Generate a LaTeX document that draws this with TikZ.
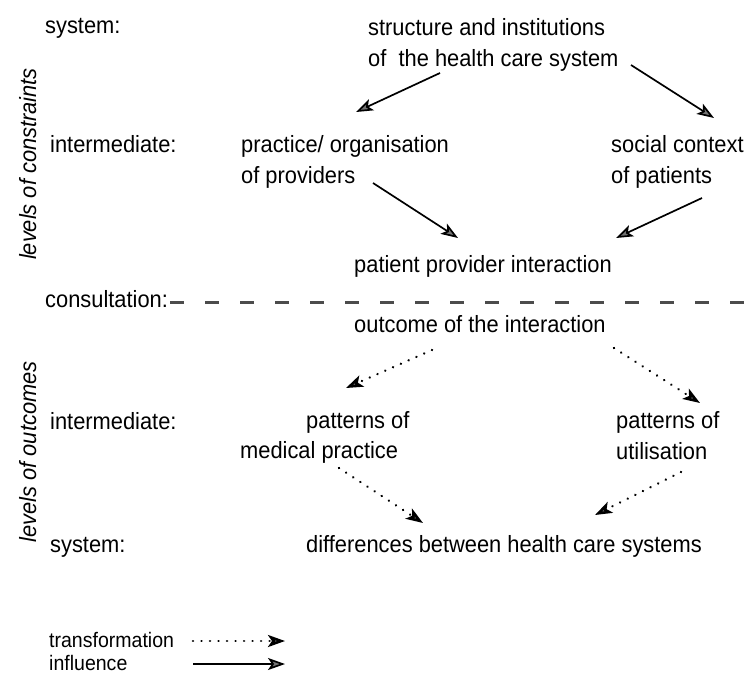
\documentclass[tikz,border=0pt]{standalone}
\usepackage{fontspec}
\setmainfont[FakeStretch=0.93]{Liberation Sans}
\usetikzlibrary{arrows.meta}
\tikzset{
  lbl/.style={inner sep=0pt, font=\fontsize{23.5}{31}\selectfont},
  rot/.style={inner sep=0pt, rotate=90, anchor=base, font=\fontsize{23.5}{31}\selectfont\itshape},
  leg/.style={inner sep=0pt, anchor=base west, font=\fontsize{21}{26}\selectfont},
  tip/.style={-{Stealth[length=17pt,width=12pt,inset=4pt,fill=black!55]}},
  infl/.style={tip, line width=1.7pt, draw=black},
  trans/.style={tip, line width=2.6pt, draw=black, line cap=round, dash pattern=on 0.01pt off 8.5pt},
  sep/.style={line width=3pt, draw=black!70, dash pattern=on 14pt off 21pt}
}
\begin{document}
\begin{tikzpicture}[x=1pt,y=-1pt]
\useasboundingbox (0,0) rectangle (749,675);
% labels
\node[lbl, anchor=base west] (sys1) at (45,33) {system:};
\node[rot] (rot1) at (36,164) {levels of constraints};
\node[lbl, anchor=north west, align=left] (struct) at (368,18) {structure and institutions\\of~ the health care system};
\node[lbl, anchor=base west] (inter1) at (50,152) {intermediate:};
\node[lbl, anchor=north west, align=left] (prac) at (241,135) {practice/ organisation\\of providers};
\node[lbl, anchor=north west, align=left] (social) at (611,135) {social context\\of patients};
\node[lbl, anchor=base west] (ppi) at (354,272) {patient provider interaction};
\node[lbl, anchor=base west] (consult) at (45,307) {consultation:};
\node[lbl, anchor=base west] (outcome) at (354,332) {outcome of the interaction};
\node[rot] (rot2) at (36,452) {levels of outcomes};
\node[lbl, anchor=base west] (inter2) at (50,429) {intermediate:};
\node[lbl, anchor=base west] (pmed1) at (306,428) {patterns of};
\node[lbl, anchor=base west] (pmed2) at (240,458) {medical practice};
\node[lbl, anchor=north west, align=left] (putil) at (616,411) {patterns of\\utilisation};
\node[lbl, anchor=base west] (sys2) at (50,552) {system:};
\node[lbl, anchor=base west] (diff) at (306,552) {differences between health care systems};
\node[leg] (ltrans) at (49,647) {transformation};
\node[leg] (linfl) at (49,670) {influence};
% arrow ends
\coordinate (a1s) at (440,73);  \coordinate (a1e) at (356,112);
\coordinate (a2s) at (631,65);  \coordinate (a2e) at (714,118);
\coordinate (a3s) at (373,183); \coordinate (a3e) at (458,238);
\coordinate (a4s) at (702,198); \coordinate (a4e) at (616,238);
\coordinate (a5s) at (432,350); \coordinate (a5e) at (346,388);
\coordinate (a6s) at (614,348); \coordinate (a6e) at (700,403);
\coordinate (a7s) at (339,468); \coordinate (a7e) at (423,523);
\coordinate (a8s) at (681,472); \coordinate (a8e) at (595,515);
\coordinate (lts) at (193,641); \coordinate (lte) at (285,641);
\coordinate (lis) at (193,664); \coordinate (lie) at (285,664);
\coordinate (ss) at (170,302);  \coordinate (se) at (749,302);
% connectors
\draw[infl] (a1s) -- (a1e);
\draw[infl] (a2s) -- (a2e);
\draw[infl] (a3s) -- (a3e);
\draw[infl] (a4s) -- (a4e);
\draw[trans] (a5s) -- (a5e);
\draw[trans] (a6s) -- (a6e);
\draw[trans] (a7s) -- (a7e);
\draw[trans] (a8s) -- (a8e);
\draw[trans] (lts) -- (lte);
\draw[infl] (lis) -- (lie);
\draw[sep] (ss) -- (se);
\end{tikzpicture}
\end{document}
